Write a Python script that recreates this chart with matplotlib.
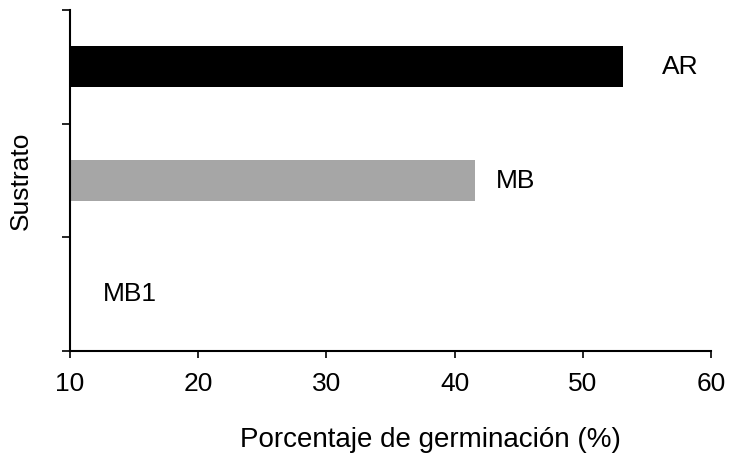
import numpy as np
import matplotlib.pyplot as plt

plt.rcParams['font.family'] = ['Liberation Sans', 'DejaVu Sans']

categorias = ['MB1', 'MB', 'AR']
germinacion = [10.0, 41.6, 53.1]
colores = ['white', '#a6a6a6', 'black']
desfase = [2.6, 1.6, 3.1]   # separacion de la etiqueta respecto a la barra

fig = plt.figure(figsize=(7.3, 4.57), dpi=100)
ax = fig.add_axes([70/730, 106/457, 641/730, 341/457])

y = np.arange(len(categorias))
ax.barh(y, np.array(germinacion) - 10, left=10, height=0.36, color=colores)

for i, (c, v) in enumerate(zip(categorias, germinacion)):
    ax.text(v + desfase[i], y[i], c, va='center', ha='left', fontsize=19)

ax.set_xlim(10, 60)
ax.set_ylim(-0.5, 2.5)
ax.set_xticks([10, 20, 30, 40, 50, 60])
ax.set_yticks([-0.5, 0.5, 1.5, 2.5])
ax.set_yticklabels([])
ax.tick_params(axis='x', labelsize=19, length=5, width=1.2, pad=10)
ax.tick_params(axis='y', length=6, width=1.2)
for s in ['top', 'right']:
    ax.spines[s].set_visible(False)
for s in ['left', 'bottom']:
    ax.spines[s].set_linewidth(1.5)

ax.set_xlabel('Porcentaje de germinación (%)', fontsize=20)
ax.xaxis.set_label_coords(0.5616, -0.222)
ax.set_ylabel('Sustrato', fontsize=19, labelpad=17)

fig.savefig('out.png', dpi=100)
